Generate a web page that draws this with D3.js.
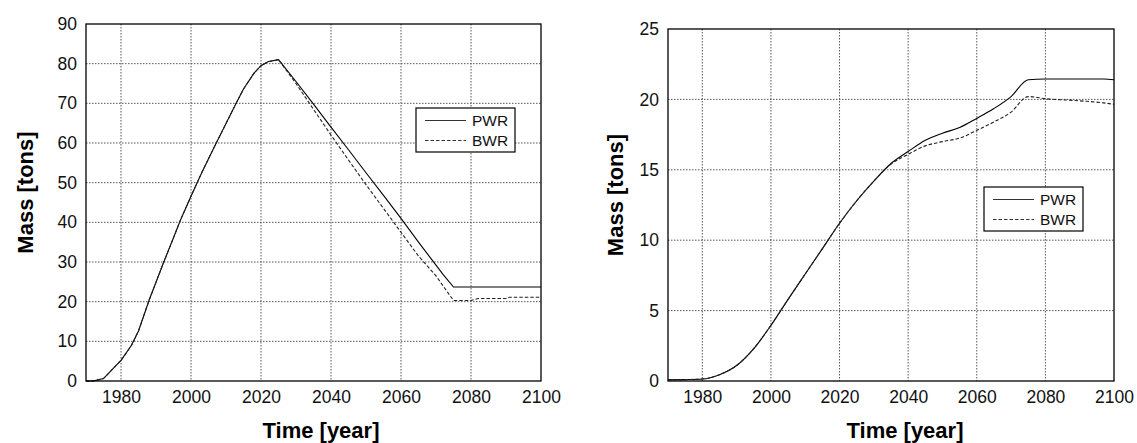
<!DOCTYPE html>
<html>
<head>
<meta charset="utf-8">
<script src="https://cdn.jsdelivr.net/npm/d3@7"></script>
<style>
    body { margin: 0; background: #fff; }
    svg { font-family: "Liberation Sans", Arial, sans-serif; }
    .grid line { stroke: #444; stroke-dasharray: 1.5,1.5; stroke-width: 0.9; }
</style>
</head>
<body>
<svg width="1137" height="443"></svg>
<script>
// left chart (mass vs time)
var leftYears = [1970, 1972, 1975, 1978, 1980, 1983, 1985, 1988, 1990, 1992, 1995, 1997, 2000, 2003, 2005, 2007,
    2010, 2013, 2015, 2018, 2020, 2022, 2025,
    2030, 2035, 2040, 2045, 2050, 2055, 2060, 2065, 2070, 2072, 2075, 2080, 2082, 2090, 2091, 2100];
var leftPWR = [0, 0, 0.6, 3.4, 5.2, 9.0, 12.6, 20.3, 24.9, 29.5, 36.1, 40.6, 46.6, 52.4, 56.0, 59.6,
    64.9, 70.2, 73.6, 77.6, 79.5, 80.5, 81,
    75.5, 69.8, 64, 58.3, 52.5, 46.8, 41, 35, 29.2, 26.9, 23.7, 23.7, 23.7, 23.7, 23.7, 23.7];
var leftBWR = [0, 0, 0.6, 3.4, 5.2, 9.0, 12.6, 20.3, 24.9, 29.5, 36.1, 40.6, 46.6, 52.4, 56.0, 59.6,
    64.9, 70.2, 73.6, 77.6, 79.5, 80.5, 81,
    75, 68.5, 62, 55.7, 49.5, 43.5, 37.5, 31.5, 26.5, 24, 20.3, 20.3, 20.8, 20.8, 21.1, 21.1];

// right chart
var rightYears = [1970, 1975, 1980, 1985, 1990, 1995, 2000, 2005, 2010, 2015, 2020, 2025, 2030, 2035,
    2040, 2045, 2050, 2055, 2060, 2065, 2070, 2075, 2080, 2090, 2097, 2100];
var rightPWR = [0.08, 0.1, 0.14, 0.45, 1.1, 2.3, 3.95, 5.8, 7.6, 9.4, 11.2, 12.8, 14.2, 15.45,
    16.3, 17.1, 17.6, 18.0, 18.65, 19.35, 20.2, 21.4, 21.45, 21.45, 21.45, 21.4];
var rightBWR = [0.08, 0.1, 0.14, 0.45, 1.1, 2.3, 3.95, 5.8, 7.6, 9.4, 11.2, 12.8, 14.2, 15.4,
    16.1, 16.7, 17.0, 17.25, 17.8, 18.4, 19.1, 20.2, 20.05, 19.9, 19.75, 19.65];

var xTicks = [1980, 2000, 2020, 2040, 2060, 2080, 2100];
var leftYTicks = [0, 10, 20, 30, 40, 50, 60, 70, 80, 90];
var rightYTicks = [0, 5, 10, 15, 20, 25];
var seriesNames = ['PWR', 'BWR'];

d3.select(window).on('load', init);

function init() {
    var svg = d3.select('svg');

    drawPanel({left: 86, right: 541, top: 24, bottom: 381},
        [0, 90], leftYTicks, leftYears, [leftPWR, leftBWR], d3.curveLinear,
        {x: 416, y: 108}, 25, 321);

    drawPanel({left: 668, right: 1114, top: 29, bottom: 381},
        [0, 25], rightYTicks, rightYears, [rightPWR, rightBWR], d3.curveMonotoneX,
        {x: 984, y: 187}, 615, 905);

    function drawPanel(box, yDomain, yTicks, years, series, curve, legendPos, yTitleX, xTitleX) {
        var g = svg.append('g');

        var xScale = d3.scaleLinear()
            .domain([1970, 2100])
            .range([box.left, box.right]);

        var yScale = d3.scaleLinear()
            .domain(yDomain)
            .range([box.bottom, box.top]);

        // grid
        var grid = g.append('g').attr('class', 'grid');
        grid.selectAll('line.v')
            .data(xTicks.filter(function (d) { return d < 2100; }))
            .enter()
            .append('line')
            .attr('class', 'v')
            .attr('x1', function (d) { return xScale(d); })
            .attr('x2', function (d) { return xScale(d); })
            .attr('y1', box.top)
            .attr('y2', box.bottom);
        grid.selectAll('line.h')
            .data(yTicks.filter(function (d) { return d > yDomain[0] && d < yDomain[1]; }))
            .enter()
            .append('line')
            .attr('class', 'h')
            .attr('x1', box.left)
            .attr('x2', box.right)
            .attr('y1', function (d) { return yScale(d); })
            .attr('y2', function (d) { return yScale(d); });

        // axes (labels only, frame drawn below)
        var xAxis = g.append('g')
            .attr('transform', 'translate(0,' + box.bottom + ')')
            .call(d3.axisBottom(xScale).tickValues(xTicks).tickFormat(d3.format('d')).tickSize(0).tickPadding(10));
        var yAxis = g.append('g')
            .attr('transform', 'translate(' + box.left + ',0)')
            .call(d3.axisLeft(yScale).tickValues(yTicks).tickSize(0).tickPadding(9));
        [xAxis, yAxis].forEach(function (a) {
            a.select('.domain').remove();
            a.selectAll('text')
                .attr('font-family', '"Liberation Sans", Arial, sans-serif')
                .attr('font-size', '17.5px')
                .attr('fill', '#111');
        });

        // lines
        series.forEach(function (vals, i) {
            var line = d3.line()
                .x(function (d, j) { return xScale(years[j]); })
                .y(function (d) { return yScale(d); })
                .curve(curve);
            g.append('path')
                .datum(vals)
                .attr('d', line)
                .attr('fill', 'none')
                .attr('stroke', i === 0 ? '#000' : '#222')
                .attr('stroke-width', 1.1)
                .attr('stroke-dasharray', i === 0 ? null : '3.5,2');
        });

        // frame
        g.append('rect')
            .attr('x', box.left)
            .attr('y', box.top)
            .attr('width', box.right - box.left)
            .attr('height', box.bottom - box.top)
            .attr('fill', 'none')
            .attr('stroke', '#000')
            .attr('stroke-width', 1.3);

        // legend
        var lg = g.append('g')
            .attr('transform', 'translate(' + legendPos.x + ',' + legendPos.y + ')');
        lg.append('rect')
            .attr('width', 99)
            .attr('height', 44)
            .attr('fill', '#fff')
            .attr('stroke', '#000')
            .attr('stroke-width', 1.2);
        seriesNames.forEach(function (name, i) {
            lg.append('line')
                .attr('x1', 9)
                .attr('x2', 50)
                .attr('y1', 12.5 + i * 20)
                .attr('y2', 12.5 + i * 20)
                .attr('stroke', '#333')
                .attr('stroke-width', 1.1)
                .attr('stroke-dasharray', i === 0 ? null : '3.5,2');
            lg.append('text')
                .attr('x', 56)
                .attr('y', 12.5 + i * 20)
                .attr('dy', '0.35em')
                .attr('font-size', '15.5px')
                .attr('fill', '#111')
                .text(name);
        });

        // axis titles
        g.append('text')
            .attr('x', xTitleX)
            .attr('y', 438)
            .attr('text-anchor', 'middle')
            .attr('font-size', '22px')
            .attr('font-weight', 'bold')
            .text('Time [year]');

        g.append('text')
            .attr('transform', 'translate(' + yTitleX + ',' + ((box.top + box.bottom) / 2 - 10) + ') rotate(-90)')
            .attr('text-anchor', 'middle')
            .attr('dy', '0.35em')
            .attr('font-size', '22px')
            .attr('font-weight', 'bold')
            .text('Mass [tons]');
    }
}
</script>
</body>
</html>
